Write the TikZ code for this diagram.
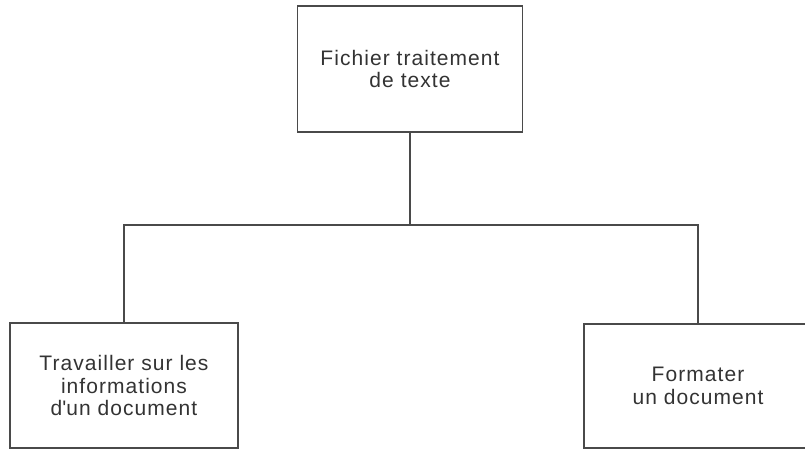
\documentclass[tikz,border=0pt]{standalone}
\usepackage{fontspec}
\setmainfont{Liberation Sans}[LetterSpace=5]
\definecolor{linec}{HTML}{4A4A4A}
\definecolor{textc}{HTML}{333333}
\begin{document}
\begin{tikzpicture}[x=1pt,y=-1pt,
  box/.style={draw=linec,line width=1.8pt,minimum width=#1,align=center,
    text=textc,font=\fontsize{21}{22.5}\selectfont,inner sep=0pt},
  conn/.style={draw=linec,line width=1.8pt}]
\useasboundingbox (0,0) rectangle (805,449);
\fill[white] (0,0) rectangle (805,449);
\node[box=225pt,minimum height=126pt] (top) at (410,69) {Fichier traitement\\de texte};
\node[box=228pt,minimum height=125pt] (left) at (124,385.5) {Travailler sur les\\informations\\d\textquotesingle un document};
\node[box=228pt,minimum height=124pt] (right) at (698,386) {Formater\\un document};
\coordinate (j) at (410,225);
\draw[conn] (top.south) -- (j);
\draw[conn] (left.north) |- (j) -| (right.north);
\end{tikzpicture}
\end{document}
